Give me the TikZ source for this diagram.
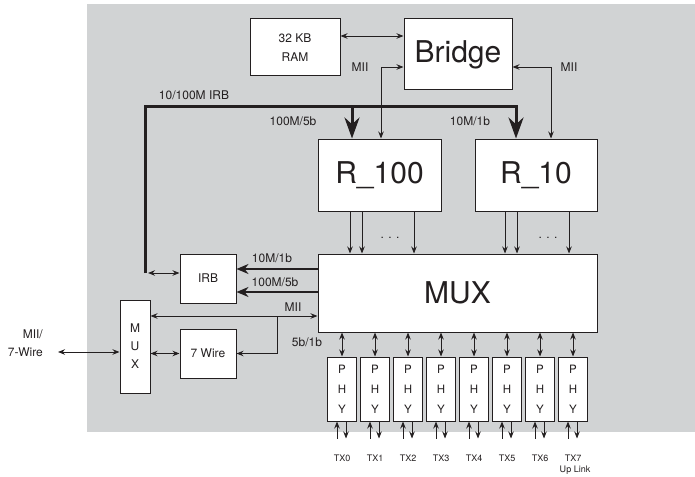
\documentclass[tikz,border=0pt]{standalone}
\usepackage{fontspec}
\setmainfont{TeX Gyre Heros}
\usetikzlibrary{arrows.meta, positioning, calc}
\definecolor{bggray}{HTML}{D1D3D4}
\definecolor{ink}{HTML}{231F20}

\begin{document}
\begin{tikzpicture}[x=1pt, y=-1pt, color=ink,
  >={Stealth[length=7pt,width=5.5pt]},
  conn/.style={line width=0.9pt},
  bus/.style={line width=3pt},
  box/.style={draw, fill=white, line width=1pt, inner sep=0pt, align=center,
    font=\fontsize{12}{19}\selectfont},
  bigbox/.style={box, font=\fontsize{30}{32}\selectfont},
  phybox/.style={box, minimum width=29pt, minimum height=64pt,
    font=\fontsize{11.5}{20}\selectfont},
  lbl/.style={inner sep=0pt, font=\fontsize{12}{18}\selectfont},
  txlbl/.style={inner sep=0pt, font=\fontsize{9}{12}\selectfont}]
\useasboundingbox (0,0) rectangle (695,476);
\fill[bggray] (87,4) rectangle (695,432);

% Blocks
\node[box, minimum width=90pt, minimum height=57pt] (ram) at (295,47.5) {32 KB\\RAM};
\node[bigbox, minimum width=108pt, minimum height=71pt] (bridge) at (458,54.5) {Bridge};
\node[bigbox, minimum width=123pt, minimum height=72pt] (r100) at (379.5,175) {R\_100};
\node[bigbox, minimum width=122pt, minimum height=72pt] (r10) at (536,175) {R\_10};
\node[bigbox, minimum width=279pt, minimum height=78pt] (mux) at (457.5,293) {MUX};
\node[box, minimum width=56pt, minimum height=49pt] (irb) at (208,278.5) {IRB};
\node[box, minimum width=56pt, minimum height=49pt] (wire) at (208,353.5) {7 Wire};
\node[box, minimum width=30pt, minimum height=93pt, font=\fontsize{12}{18}\selectfont] (smux) at (135,346.5) {M\\U\\X};

% Bridge side
\draw[conn, <->] (ram.east |- 0,36) -- (bridge.west |- 0,36);
\draw[conn, <->] (bridge.west |- 0,67) -| (r100.north -| 381,0);
\draw[conn, <->] (bridge.east |- 0,67) -| (r10.north -| 551,0);
\node[lbl] (miil) at (360,67) {MII};
\node[lbl] (miir) at (569,67) {MII};

% 10/100M IRB bus
\coordinate (irbend) at (145,273);
\draw[bus, -{Stealth[length=21pt,width=15pt]}] (irbend) |- (516,107) -- (r10.north -| 516,0);
\draw[bus, -{Stealth[length=21pt,width=15pt]}] (352,107) -- (r100.north -| 352,0);
\draw[conn, <->] (irbend -| 148,0) -- (irb.west |- irbend);
\node[lbl] (irblbl) at (194,95) {10/100M IRB};
\node[lbl] (l100) at (293,121) {100M/5b};
\node[lbl] (l10) at (470,121) {10M/1b};

% R_100 / R_10 to MUX
\foreach \x in {350,362,414}
  \draw[conn, ->] (r100.south -| \x,0) -- (mux.north -| \x,0);
\foreach \x in {505,517,569}
  \draw[conn, ->] (r10.south -| \x,0) -- (mux.north -| \x,0);
\node[lbl] (dotsa) at (390,238) {. . .};
\node[lbl] (dotsb) at (548,238) {. . .};

% MUX to IRB
\draw[line width=2.5pt, -{Stealth[length=12pt,width=10pt]}] (mux.west |- 0,269) -- (irb.east |- 0,269);
\draw[line width=2.5pt, -{Stealth[length=12pt,width=10pt]}] (mux.west |- 0,292) -- (irb.east |- 0,292);
\node[lbl] (l10b) at (272,258) {10M/1b};
\node[lbl] (l100b) at (275,282) {100M/5b};

% MII and 7 Wire
\draw[conn, <->] (smux.east |- 0,316) -- (mux.west |- 0,316);
\draw[conn, ->] (277,316) |- (wire.east);
\draw[conn, <->] (smux.east |- wire.west) -- (wire.west);
\node[lbl] (miim) at (293,307) {MII};
\node[lbl] (l5b) at (307,342) {5b/1b};

% External port
\coordinate (ext) at (58,352);
\draw[conn, <->] (ext) -- (smux.west |- ext);
\node[lbl, anchor=east, align=right] (extlbl) at (43,343) {MII/\\7-Wire};

% PHYs
\foreach \i in {0,...,7} {
  \node[phybox] (phy\i) at ({342+33*\i},389) {P\\H\\Y};
  \draw[conn, <->] (mux.south -| phy\i) -- (phy\i.north);
  \coordinate (tx\i) at ($(phy\i.south)+(0,17)$);
  \draw[conn, ->] ([xshift=-5pt]tx\i) -- ([xshift=-5pt]phy\i.south);
  \draw[conn, ->] ([xshift=4pt]phy\i.south) -- ([xshift=4pt]tx\i);
  \node[txlbl] (txl\i) at ({342+33*\i},458) {TX\i};
}
\node[txlbl] (uplink) at (575,470) {Up Link};
\end{tikzpicture}
\end{document}
